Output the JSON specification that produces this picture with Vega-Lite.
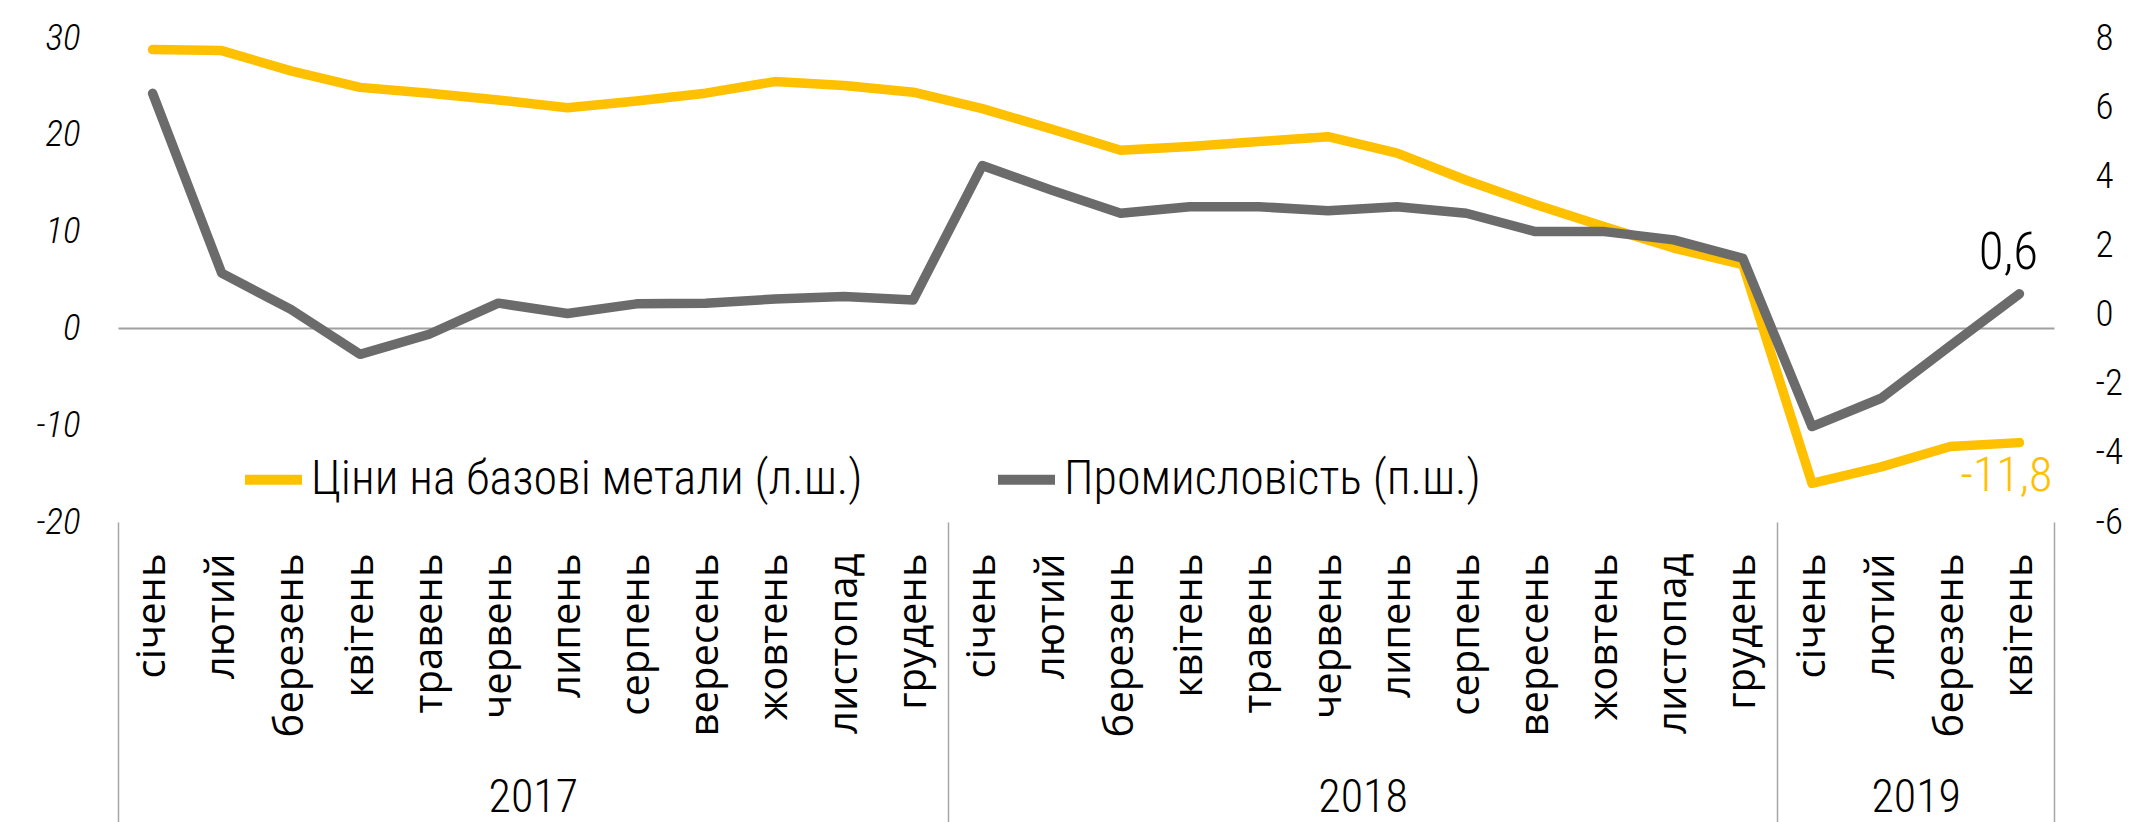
{
  "$schema": "https://vega.github.io/schema/vega-lite/v6.json",
  "width": 1936,
  "height": 484,
  "autosize": {"type": "none"},
  "padding": {"left": 118, "top": 38, "right": 83, "bottom": 300},
  "background": "white",
  "config": {
    "locale": {"number": {"decimal": ",", "thousands": " ", "grouping": [3], "currency": ["", ""], "minus": "-"}},
    "view": {"stroke": null},
    "font": "Liberation Sans Narrow, Roboto Condensed, Roboto, sans-serif"
  },
  "data": {"values": [
    {"i": 0, "series": "Ціни на базові метали (л.ш.)", "value": 28.8},
    {"i": 1, "series": "Ціни на базові метали (л.ш.)", "value": 28.7},
    {"i": 2, "series": "Ціни на базові метали (л.ш.)", "value": 26.6},
    {"i": 3, "series": "Ціни на базові метали (л.ш.)", "value": 24.9},
    {"i": 4, "series": "Ціни на базові метали (л.ш.)", "value": 24.3},
    {"i": 5, "series": "Ціни на базові метали (л.ш.)", "value": 23.6},
    {"i": 6, "series": "Ціни на базові метали (л.ш.)", "value": 22.8},
    {"i": 7, "series": "Ціни на базові метали (л.ш.)", "value": 23.5},
    {"i": 8, "series": "Ціни на базові метали (л.ш.)", "value": 24.3},
    {"i": 9, "series": "Ціни на базові метали (л.ш.)", "value": 25.5},
    {"i": 10, "series": "Ціни на базові метали (л.ш.)", "value": 25.1},
    {"i": 11, "series": "Ціни на базові метали (л.ш.)", "value": 24.4},
    {"i": 12, "series": "Ціни на базові метали (л.ш.)", "value": 22.7},
    {"i": 13, "series": "Ціни на базові метали (л.ш.)", "value": 20.6},
    {"i": 14, "series": "Ціни на базові метали (л.ш.)", "value": 18.4},
    {"i": 15, "series": "Ціни на базові метали (л.ш.)", "value": 18.8},
    {"i": 16, "series": "Ціни на базові метали (л.ш.)", "value": 19.3},
    {"i": 17, "series": "Ціни на базові метали (л.ш.)", "value": 19.8},
    {"i": 18, "series": "Ціни на базові метали (л.ш.)", "value": 18.1},
    {"i": 19, "series": "Ціни на базові метали (л.ш.)", "value": 15.3},
    {"i": 20, "series": "Ціни на базові метали (л.ш.)", "value": 12.8},
    {"i": 21, "series": "Ціни на базові метали (л.ш.)", "value": 10.5},
    {"i": 22, "series": "Ціни на базові метали (л.ш.)", "value": 8.3},
    {"i": 23, "series": "Ціни на базові метали (л.ш.)", "value": 6.6},
    {"i": 24, "series": "Ціни на базові метали (л.ш.)", "value": -16.0},
    {"i": 25, "series": "Ціни на базові метали (л.ш.)", "value": -14.3},
    {"i": 26, "series": "Ціни на базові метали (л.ш.)", "value": -12.2},
    {"i": 27, "series": "Ціни на базові метали (л.ш.)", "value": -11.8},
    {"i": 0, "series": "Промисловість (п.ш.)", "value": 6.4},
    {"i": 1, "series": "Промисловість (п.ш.)", "value": 1.2},
    {"i": 2, "series": "Промисловість (п.ш.)", "value": 0.15},
    {"i": 3, "series": "Промисловість (п.ш.)", "value": -1.15},
    {"i": 4, "series": "Промисловість (п.ш.)", "value": -0.57},
    {"i": 5, "series": "Промисловість (п.ш.)", "value": 0.33},
    {"i": 6, "series": "Промисловість (п.ш.)", "value": 0.03},
    {"i": 7, "series": "Промисловість (п.ш.)", "value": 0.31},
    {"i": 8, "series": "Промисловість (п.ш.)", "value": 0.33},
    {"i": 9, "series": "Промисловість (п.ш.)", "value": 0.45},
    {"i": 10, "series": "Промисловість (п.ш.)", "value": 0.52},
    {"i": 11, "series": "Промисловість (п.ш.)", "value": 0.42},
    {"i": 12, "series": "Промисловість (п.ш.)", "value": 4.31},
    {"i": 13, "series": "Промисловість (п.ш.)", "value": 3.6},
    {"i": 14, "series": "Промисловість (п.ш.)", "value": 2.93},
    {"i": 15, "series": "Промисловість (п.ш.)", "value": 3.12},
    {"i": 16, "series": "Промисловість (п.ш.)", "value": 3.12},
    {"i": 17, "series": "Промисловість (п.ш.)", "value": 3.0},
    {"i": 18, "series": "Промисловість (п.ш.)", "value": 3.12},
    {"i": 19, "series": "Промисловість (п.ш.)", "value": 2.93},
    {"i": 20, "series": "Промисловість (п.ш.)", "value": 2.4},
    {"i": 21, "series": "Промисловість (п.ш.)", "value": 2.4},
    {"i": 22, "series": "Промисловість (п.ш.)", "value": 2.16},
    {"i": 23, "series": "Промисловість (п.ш.)", "value": 1.63},
    {"i": 24, "series": "Промисловість (п.ш.)", "value": -3.24},
    {"i": 25, "series": "Промисловість (п.ш.)", "value": -2.42},
    {"i": 26, "series": "Промисловість (п.ш.)", "value": -0.9},
    {"i": 27, "series": "Промисловість (п.ш.)", "value": 0.6}
  ]},
  "layer": [
    {
      "transform": [{"filter": {"field": "series", "equal": "Ціни на базові метали (л.ш.)"}}],
      "encoding": {
        "x": {
          "field": "i", "type": "quantitative",
          "scale": {"domain": [-0.5, 27.5], "nice": false, "zero": false},
          "axis": {
            "orient": "bottom", "title": null,
            "values": [0,1,2,3,4,5,6,7,8,9,10,11,12,13,14,15,16,17,18,19,20,21,22,23,24,25,26,27],
            "labelExpr": "['січень','лютий','березень','квітень','травень','червень','липень','серпень','вересень','жовтень','листопад','грудень'][datum.value % 12]",
            "labelAngle": -90, "labelAlign": "right", "labelBaseline": "middle",
            "labelFont": "Open Sans", "labelFontSize": 40, "labelColor": "#000000", "labelLimit": 500,
            "labelPadding": 31, "ticks": false, "domain": false, "grid": false,
            "labelOverlap": false, "labelFlush": false, "labelBound": false
          }
        },
        "y": {
          "field": "value", "type": "quantitative",
          "scale": {"domain": [-20, 30], "nice": false, "zero": false},
          "axis": {
            "orient": "left", "title": null, "values": [-20, -10, 0, 10, 20, 30],
            "labelFontStyle": "italic", "labelFontSize": 37, "labelFontWeight": 300, "labelColor": "#000000",
            "labelPadding": 38, "ticks": false, "domain": false,
            "grid": true, "gridWidth": 2,
            "gridColor": {"condition": {"test": "datum.value === 0", "value": "#a0a0a0"}, "value": "transparent"},
            "labelOverlap": false, "labelFlush": false
          }
        }
      },
      "layer": [
        {
          "mark": {"type": "line", "strokeWidth": 9.5, "strokeCap": "round", "strokeJoin": "round"},
          "encoding": {
            "color": {
              "field": "series", "type": "nominal",
              "scale": {"domain": ["Ціни на базові метали (л.ш.)", "Промисловість (п.ш.)"], "range": ["#FFC000", "#6B6B6B"]},
              "legend": {
                "orient": "none", "legendX": 122, "legendY": 408, "direction": "horizontal",
                "title": null, "symbolType": "stroke", "symbolSize": 3249, "symbolStrokeWidth": 10,
                "labelFontSize": 48, "labelFontWeight": 300, "labelOffset": 4, "columnPadding": 115, "padding": 0,
                "labelLimit": 1000, "labelColor": "#000000"
              }
            }
          }
        },
        {
          "transform": [{"filter": "datum.i === 27"}],
          "mark": {"type": "text", "color": "#FFC000", "fontSize": 48, "fontWeight": 300, "dx": -13, "dy": 34, "align": "center", "baseline": "middle"},
          "encoding": {"text": {"field": "value", "type": "quantitative", "format": ".1f"}}
        }
      ]
    },
    {
      "transform": [{"filter": {"field": "series", "equal": "Промисловість (п.ш.)"}}],
      "encoding": {
        "x": {
          "field": "i", "type": "quantitative",
          "scale": {"domain": [-0.5, 27.5], "nice": false, "zero": false},
          "axis": {
            "orient": "bottom", "title": null,
            "values": [-0.5, 5.5, 11.5, 17.5, 23.5, 25.5, 27.5],
            "labelExpr": "datum.value === 5.5 ? '2017' : datum.value === 17.5 ? '2018' : datum.value === 25.5 ? '2019' : ''",
            "labelAngle": 0, "labelAlign": "center", "labelBaseline": "middle",
            "labelFontSize": 46, "labelFontWeight": 300, "labelColor": "#000000", "labelPadding": -25,
            "ticks": true, "tickSize": 300, "tickWidth": 1.5,
            "tickColor": {"condition": {"test": "datum.value === 5.5 || datum.value === 17.5 || datum.value === 25.5", "value": "transparent"}, "value": "#a6a6a6"},
            "domain": false, "grid": false, "labelOverlap": false, "labelFlush": false, "labelBound": false
          }
        },
        "y": {
          "field": "value", "type": "quantitative",
          "scale": {"domain": [-6, 8], "nice": false, "zero": false},
          "axis": {
            "orient": "right", "title": null, "values": [-6, -4, -2, 0, 2, 4, 6, 8],
            "labelFontSize": 37, "labelFontWeight": 300, "labelColor": "#000000", "labelPadding": 41,
            "ticks": false, "domain": false, "grid": false,
            "labelOverlap": false, "labelFlush": false
          }
        }
      },
      "layer": [
        {
          "mark": {"type": "line", "strokeWidth": 9.5, "strokeCap": "round", "strokeJoin": "round"},
          "encoding": {"color": {"field": "series", "type": "nominal"}}
        },
        {
          "transform": [{"filter": "datum.i === 27"}],
          "mark": {"type": "text", "color": "#000000", "fontSize": 51, "fontWeight": 300, "dx": -11, "dy": -40, "align": "center", "baseline": "middle"},
          "encoding": {"text": {"field": "value", "type": "quantitative", "format": ".1f"}}
        }
      ]
    }
  ],
  "resolve": {"scale": {"y": "independent"}, "axis": {"x": "independent", "y": "independent"}}
}
